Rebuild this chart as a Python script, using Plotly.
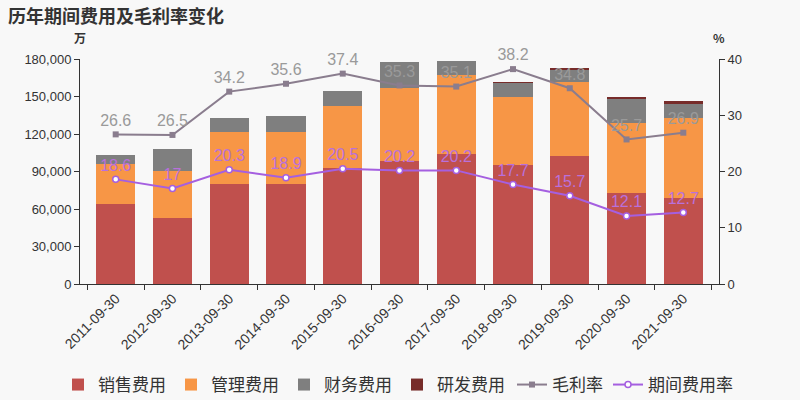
import plotly.graph_objects as go

years = ["2011-09-30", "2012-09-30", "2013-09-30", "2014-09-30", "2015-09-30", "2016-09-30",
         "2017-09-30", "2018-09-30", "2019-09-30", "2020-09-30", "2021-09-30"]
sales_exp = [64000, 53000, 80300, 80000, 92800, 98100, 104000, 95500, 102700, 73000, 69000]
admin_exp = [32000, 37400, 41300, 41600, 49600, 58700, 63200, 53800, 59200, 56000, 63500]
fin_exp = [7500, 17300, 11200, 12800, 12000, 20800, 11200, 11700, 9800, 19300, 11500]
rd_exp = [0, 0, 0, 0, 0, 0, 0, 600, 1000, 800, 2400]
gross_margin = [26.6, 26.5, 34.2, 35.6, 37.4, 35.3, 35.1, 38.2, 34.8, 25.7, 26.9]
period_rate = [18.6, 17, 20.3, 18.9, 20.5, 20.2, 20.2, 17.7, 15.7, 12.1, 12.7]

C_SALES = "#c0504d"
C_ADMIN = "#f79646"
C_FIN = "#7f7f7f"
C_RD = "#772c2a"
C_GM = "#8a7d8e"
C_PR = "#a55fe0"

NUM_FONT = "Liberation Sans, Arial, Noto Sans CJK SC, sans-serif"
CJK_FONT = "Noto Sans CJK SC, Noto Sans, sans-serif"

fig = go.Figure()

for name, vals, col in [("销售费用", sales_exp, C_SALES), ("管理费用", admin_exp, C_ADMIN),
                        ("财务费用", fin_exp, C_FIN), ("研发费用", rd_exp, C_RD)]:
    fig.add_trace(go.Bar(x=years, y=vals, name=name, marker=dict(color=col, line=dict(width=0)),
                         yaxis="y", legend="legend"))

fig.add_trace(go.Scatter(x=years, y=gross_margin, name="毛利率", mode="lines+markers+text",
                         text=[str(v) for v in gross_margin], textposition="top center",
                         textfont=dict(size=16, color="#9a9a9a", family=NUM_FONT),
                         line=dict(color=C_GM, width=2), cliponaxis=False,
                         marker=dict(symbol="square", size=6, color=C_GM),
                         yaxis="y2", legend="legend2"))
fig.add_trace(go.Scatter(x=years, y=period_rate, name="期间费用率", mode="lines+markers+text",
                         text=[str(v) for v in period_rate], textposition="top center",
                         textfont=dict(size=16, color="#b970dc", family=NUM_FONT),
                         line=dict(color=C_PR, width=2), cliponaxis=False,
                         marker=dict(symbol="circle", size=6, color="white", line=dict(color=C_PR, width=1.5)),
                         yaxis="y2", legend="legend2"))

axis_font = dict(family=NUM_FONT, size=13, color="#333")

fig.update_layout(
    width=800, height=400,
    margin=dict(l=80, r=81, t=59, b=116, autoexpand=False),
    paper_bgcolor="#f8f8f8", plot_bgcolor="#f8f8f8",
    barmode="stack", bargap=0.31,
    font=dict(family=CJK_FONT, color="#333"),
    xaxis=dict(type="category", tickangle=-45, tickfont=dict(size=14, color="#333", family=NUM_FONT),
               showline=True, linecolor="#333", linewidth=1, ticks="outside", ticklen=5,
               tickcolor="#333", tickson="boundaries", showgrid=False, zeroline=False),
    yaxis=dict(side="left", range=[0, 180000], dtick=30000, tickformat=",d",
               showline=True, linecolor="#333", ticks="outside", ticklen=5, tickcolor="#333",
               tickfont=axis_font, showgrid=False, zeroline=False),
    yaxis2=dict(side="right", overlaying="y", range=[0, 40], dtick=10, showline=True, linecolor="#333",
                ticks="outside", ticklen=5, tickcolor="#333", tickfont=axis_font,
                showgrid=False, zeroline=False),
    legend=dict(orientation="h", x=(58 - 80) / 639, xanchor="left", y=(284 - 385) / 225, yanchor="middle",
                font=dict(size=17, color="#333", family=CJK_FONT), traceorder="normal",
                bgcolor="rgba(0,0,0,0)"),
    legend2=dict(orientation="h", x=(512 - 80) / 639, xanchor="left", y=(284 - 385) / 225, yanchor="middle",
                 font=dict(size=17, color="#333", family=CJK_FONT), traceorder="normal",
                 bgcolor="rgba(0,0,0,0)"),
    showlegend=True,
)

fig.add_annotation(text="<b>历年期间费用及毛利率变化</b>", xref="paper", yref="paper",
                   x=-74/639, y=1 + 44/225, xanchor="left", yanchor="middle", showarrow=False,
                   font=dict(size=18, color="#333", family=CJK_FONT))
fig.add_annotation(text="<b>万</b>", xref="paper", yref="paper", x=0, y=1 + 22/225,
                   xanchor="center", yanchor="middle", showarrow=False, font=dict(size=12, color="#333"))
fig.add_annotation(text="<b>%</b>", xref="paper", yref="paper", x=1, y=1 + 22/225,
                   xanchor="center", yanchor="middle", showarrow=False, font=dict(size=12, color="#333"))

fig.write_html("out.html", config={"displayModeBar": False},
               post_script="document.body.style.margin='0';document.body.style.background='#f8f8f8';")
